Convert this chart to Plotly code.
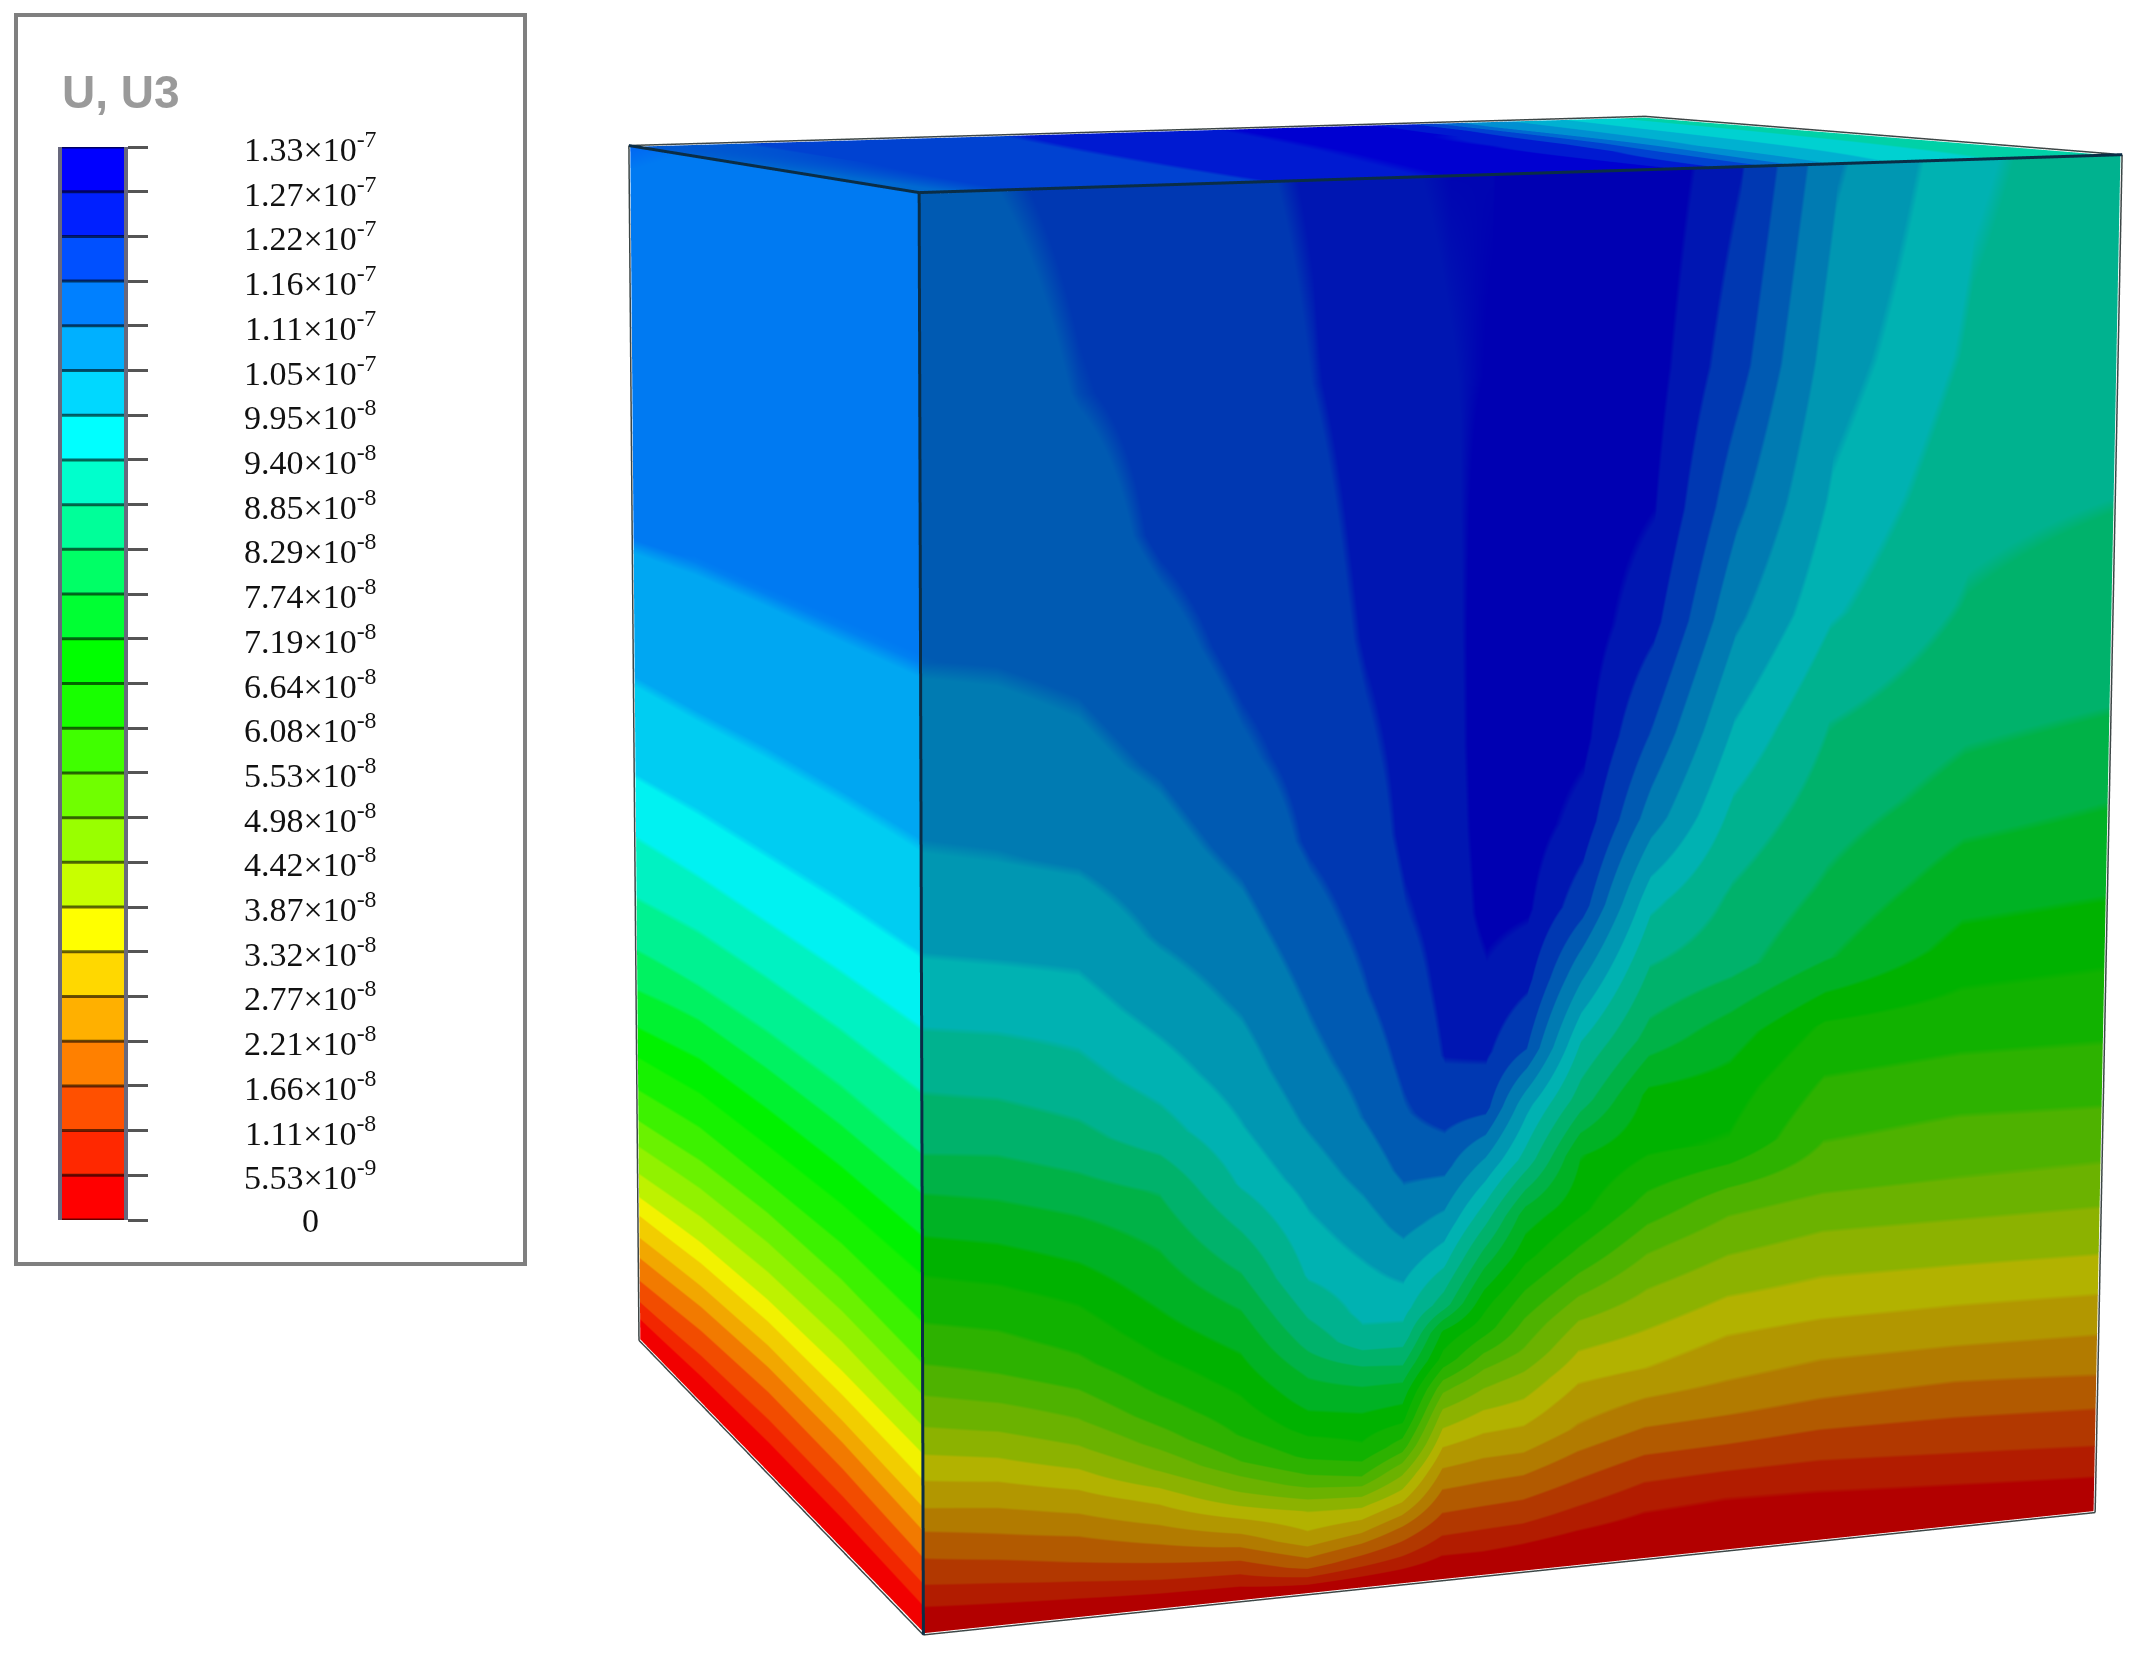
import numpy as np
import plotly.graph_objects as go

W, H = 2139, 1661

# ---------- legend ----------
tick_labels = ["0", "5.53×10<sup>-9</sup>"] + [m + "×10<sup>-8</sup>" for m in
               ["1.11", "1.66", "2.21", "2.77", "3.32", "3.87", "4.42", "4.98", "5.53", "6.08", "6.64", "7.19", "7.74", "8.29", "8.85", "9.40", "9.95"]] + \
              [m + "×10<sup>-7</sup>" for m in ["1.05", "1.11", "1.16", "1.22", "1.27", "1.33"]]
band_colors = ["#FF0000", "#FF2800", "#FF5000", "#FF8000", "#FFB000", "#FFD800", "#FFFF00", "#C8FF00", "#99FF00", "#70FF00",
               "#40FF00", "#18FF00", "#00FF00", "#00FF33", "#00FF66", "#00FF99", "#00FFCC", "#00FFFF", "#00D8FF", "#00B0FF",
               "#0080FF", "#0050FF", "#0020FF", "#0000FF"]
band_index = list(range(24))
LEVEL = 5.53e-9  # one legend band
tick_values = [k*LEVEL for k in range(25)]

# ---------- front face: contour level (in legend bands) read per column, rows bottom to top ----------
v_rows = [0, .02, .04, .06, .08, .10, .12, .14, .16, .18, .20, .23, .26, .30, .34, .38, .43, .48, .54, .60, .68, .76, .86, 1]
u_front = [0, .0597, .1252, .1914, .2582, .3143, .3595, .3934, .4275, .4619, .4963, .5425, .6005, .6707, .7529, .8724, 1]
front_cols = [
 [0,1.1,2.3,3.37,4.45,5.6,6.55,7.65,8.6,9.5,10.3,11.3,12.2,13.6,14.95,15.9,17.05,17.95,18.8,19.4,20,20.2,20.5,20.8],
 [0,1.3,2.6,3.75,4.75,5.85,6.95,8.05,9.05,9.95,10.65,11.6,12.55,13.9,15.1,16.1,17.2,18.1,18.9,19.5,20.05,20.25,20.5,20.85],
 [0,1.55,3.05,4.15,5.3,6.55,7.8,8.9,9.8,10.7,11.35,12.2,13.15,14.4,15.6,16.55,17.45,18.25,19.1,19.7,20.2,20.5,20.9,21.1],
 [0,1.9,3.6,4.95,6.35,8.05,9.35,10.4,11.25,11.95,12.55,13.35,14.05,15,16.5,17.4,18.3,19.05,19.6,20.1,20.6,21.05,21.15,21.4],
 [0,2.1,4.2,6.1,8.15,9.9,11.05,11.75,12.4,13,13.65,14.7,15.75,17.1,17.85,18.45,19.1,19.65,20.25,20.75,21.15,21.35,21.45,21.75],
 [0,3.4,5.65,7,9.4,11.2,12.35,13.3,14.15,15.15,16,17.1,17.6,18.35,19.1,19.65,20.1,20.55,21.05,21.2,21.4,21.6,21.9,22.05],
 [0,2.6,5,7.15,9.85,11.75,12.6,13.6,14.85,16.6,17.25,17.75,18.4,19.3,20,20.35,20.85,21.15,21.45,21.75,22.05,22.2,22.35,22.6],
 [0,2,3.9,6.1,8.1,10.45,12.3,13.5,15,16.55,17.35,18.25,19.25,20.2,20.8,21.15,21.5,21.85,22.15,22.2,22.35,22.5,22.65,22.8],
 [0,1.2,2.5,3.7,4.9,6.25,7.6,9.35,11.6,12.75,15.4,17.15,18.6,20.25,21.3,22,22.2,22.3,22.4,22.5,22.6,22.7,22.8,22.9],
 [0,1.2,2.35,3.6,4.65,5.8,6.9,8.2,9.75,11.45,12.4,14.35,16.3,18.7,21.2,22.1,22.7,23.15,23.3,23.35,23.3,23.15,22.95,22.9],
 [0,1.05,2.3,3.45,4.6,5.7,6.65,7.6,8.85,9.7,10.7,12.3,13.5,16.55,18.25,20.9,22.2,23,23.3,23.45,23.5,23.5,23.4,23.2],
 [0,.75,1.8,2.85,3.85,4.85,5.5,6.25,7.05,8,9.15,10.8,12.25,13,15.4,16.85,19.1,21.3,22.5,23.1,23.35,23.45,23.55,23.6],
 [0,.55,1.25,2.15,3.2,4.2,5.05,6,6.65,7.35,8.05,9.25,10.6,12.15,12.7,14.5,15.85,17.25,19.45,20.8,22.2,22.9,23.2,23.5],
 [0,.55,1.1,2.05,3.1,4.05,4.8,5.45,6.05,6.7,7.35,8.4,9.5,11.9,12.5,13.4,15.25,15.8,16.75,17.8,19.15,20.2,21.25,22],
 [0,.55,1.15,2,2.9,3.85,4.55,5.15,5.85,6.55,7.05,8,9.1,10.05,10.9,11.85,14.05,14.75,15.4,15.95,17.1,17.75,18.35,19.05],
 [0,.65,1.35,2.2,2.95,3.75,4.45,5.15,5.85,6.45,7.1,8,9,9.8,10.7,11.6,12.6,13.5,14.5,15.2,15.85,16.3,16.8,17.15],
 [0,.8,1.6,2.4,3.1,3.95,4.55,5.2,5.9,6.5,7.15,8,8.95,9.85,10.75,11.5,12.45,13.3,14.15,14.95,15.35,16.05,16.15,16.3],
]
# ---------- left face ----------
y_left = [1, .75, .5, .25, 0]
left_cols = [
 [0,1.2,2.5,3.5,4.6,5.65,6.85,7.9,8.8,9.65,10.5,11.6,12.75,14.05,15.15,16.05,17.05,17.95,18.75,19.4,20.05,20.3,20.6,20.9],
 [0,.95,2.05,3.05,4.1,5.2,6.3,7.4,8.3,9.2,10,11.15,12.25,13.55,14.9,15.85,17,17.9,18.75,19.4,20,20.25,20.55,20.85],
 [0,.85,1.9,2.85,3.9,5,6.1,7.2,8.1,9,9.8,11.1,12.15,13.45,14.8,15.8,17,17.9,18.75,19.35,20,20.25,20.55,20.85],
 [0,.9,2,3,4.05,5.2,6.25,7.3,8.2,9.1,9.9,11.05,12.1,13.45,14.8,15.8,17,17.9,18.75,19.4,20,20.2,20.5,20.8],
 front_cols[0],
]
# ---------- top face ----------
u_top = [0, .1, .25, .4, .5, .6, .7, .75, .8, .9, 1]
w_top = [0, .5, 1]
top_rows = [
 [20.8,21,21.7,22.8,23.2,23.5,20.8,19,17.9,16.9,16.3],
 [20.85,20.95,21.55,22.45,22.85,23.3,22.5,21,19.2,17.5,16.4],
 [20.9,20.9,21.4,22.1,22.5,23,23.3,22.5,20.2,18.2,16.5],
]

# ---------- view: projective camera of the unit box ----------
view_matrix = np.array([[3.253, -1.153, 0.02, -1.132],
                        [-0.212, -0.503, -3.803, 2.147],
                        [0.168, 0.556, -0.073, 2.675]])
SX0, SX1 = .26, 1.0
F = H/2/np.tan(np.pi/8)
D = 3.0

def shade(hexc, f):
    r, g, b = int(hexc[1:3], 16), int(hexc[3:5], 16), int(hexc[5:7], 16)
    return f"rgb({r*f:.0f},{g*f:.0f},{b*f:.0f})"

def cscale(f):
    out = []
    for k, c in enumerate(band_colors):
        out += [[k/24, shade(c, f)], [(k+1)/24, shade(c, f)]]
    return out

def to_scene(c):
    X = np.stack([c[..., 0], c[..., 1], c[..., 2], np.ones_like(c[..., 0])], -1)
    return 1000*(X@view_matrix[0])/F, X@view_matrix[2]-D, -1000*(X@view_matrix[1])/F

def box(x, y, z):
    x, y, z = np.broadcast_arrays(x, y, z)
    return to_scene(np.stack([x, y, z], -1).astype(float))

LIGHT = dict(ambient=1, diffuse=0, specular=0, roughness=1, fresnel=0)
def face(x, y, z, c, f):
    X, Y, Z = box(x, y, z)
    return go.Surface(x=X, y=Y, z=Z, surfacecolor=np.array(c)*LEVEL*1e8, cmin=0, cmax=24*LEVEL*1e8,
                      colorscale=cscale(f), showscale=False, lighting=LIGHT, hoverinfo="skip", scene="scene")

def edge_trace(edges, color, width):
    ex, ey, ez = [], [], []
    for a, b in edges:
        A, B = to_scene(np.array(a, float)), to_scene(np.array(b, float))
        ex += [float(A[0]), float(B[0]), None]
        ey += [float(A[1])-.006, float(B[1])-.006, None]
        ez += [float(A[2]), float(B[2]), None]
    return go.Scatter3d(x=ex, y=ey, z=ez, mode="lines", line=dict(color=color, width=width), hoverinfo="skip", showlegend=False, scene="scene")

fig = go.Figure()
fig.add_trace(go.Heatmap(x=[0, 1], y=tick_values, z=[[k] for k in band_index], zmin=0, zmax=24,
                         colorscale=cscale(1), showscale=False, hoverinfo="skip", xaxis="x", yaxis="y"))
xs, ys = [], []
for t in tick_values:
    xs += [0, 1, None]; ys += [t, t, None]
fig.add_trace(go.Scatter(x=xs, y=ys, mode="lines", line=dict(color="rgba(0,0,0,.6)", width=3), hoverinfo="skip", showlegend=False, xaxis="x", yaxis="y"))

uu, vv = np.meshgrid(u_front, v_rows)
fig.add_trace(face(uu, 0*uu, vv, np.array(front_cols).T, .70))
yy, vv2 = np.meshgrid(y_left, v_rows)
fig.add_trace(face(0*yy, yy, vv2, np.array(left_cols).T, .95))
ut, wt = np.meshgrid(u_top, w_top)
fig.add_trace(face(ut, wt, 0*ut+1, np.array(top_rows), .82))
inner_edges = [[(0,0,0),(0,0,1)], [(0,0,1),(1,0,1)], [(0,0,1),(0,1,1)]]
outer_edges = [[(0,1,1),(0,1,0)], [(0,1,1),(1,1,1)], [(1,1,1),(1,0,1)], [(1,0,1),(1,0,0)], [(0,1,0),(0,0,0)], [(0,0,0),(1,0,0)]]
fig.add_trace(edge_trace(outer_edges, "rgb(60,70,70)", 3))
fig.add_trace(edge_trace(inner_edges, "rgb(10,45,70)", 6))

ann = [dict(x=310/W, xref="paper", y=t, yref="y", text=l, showarrow=False, xanchor="center", yanchor="middle",
            font=dict(family="Liberation Serif", size=34, color="#111")) for t, l in zip(tick_values, tick_labels)]
ann.append(dict(x=60/W, xref="paper", y=1-92/H, yref="paper", text="<b>U, U3</b>", showarrow=False, xanchor="left", yanchor="middle",
                font=dict(family="Liberation Sans", size=46, color="#9a9a9a")))

ax3 = dict(visible=False, range=[-2, 2], showspikes=False)
fig.update_layout(
    width=W, height=H, margin=dict(l=0, r=0, t=0, b=0), paper_bgcolor="white", plot_bgcolor="white", showlegend=False,
    xaxis=dict(domain=[62/W, 124/W], range=[0, 1], visible=False, fixedrange=True),
    yaxis=dict(domain=[1-1220/H, 1-147/H], range=[0, 24*LEVEL], tickmode="array", tickvals=tick_values, ticks="outside", ticklen=20, tickwidth=3,
               tickcolor="#555", showticklabels=False, side="right", showline=True, mirror=True, linewidth=4, linecolor="rgba(40,40,70,.7)", showgrid=False, zeroline=False, fixedrange=True),
    scene=dict(domain=dict(x=[SX0, SX1], y=[0, 1]), xaxis=ax3, yaxis=ax3, zaxis=ax3, bgcolor="white", aspectmode="manual",
               aspectratio=dict(x=4, y=4, z=4),
               camera=dict(eye=dict(x=0, y=-D, z=0), center=dict(x=0, y=0, z=0), up=dict(x=0, y=0, z=1), projection=dict(type="perspective"))),
    annotations=ann,
    shapes=[dict(type="rect", xref="paper", yref="paper", x0=16/W, x1=525/W, y0=1-1264/H, y1=1-15/H, line=dict(color="#7f7f7f", width=4))],
)
fig.write_html("out.html", post_script="document.body.style.margin='0';", config=dict(displayModeBar=False))
